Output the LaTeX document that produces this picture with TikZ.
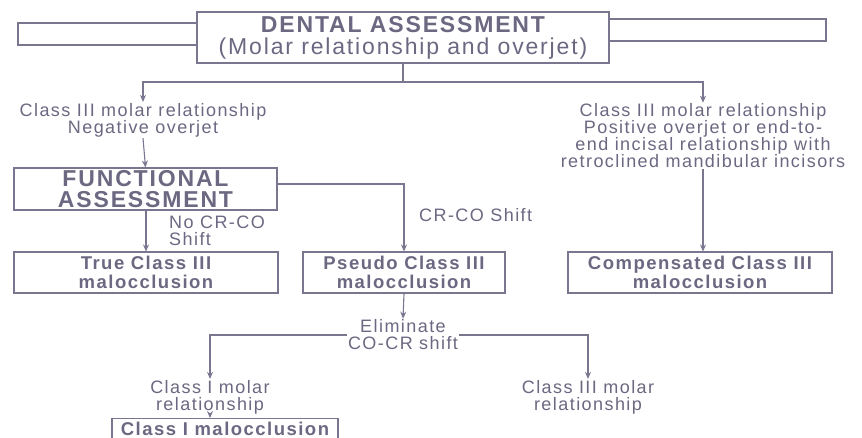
\documentclass[tikz,border=0pt]{standalone}
\usepackage{fontspec}
\setmainfont{Liberation Sans}[LetterSpace=8]
\usetikzlibrary{arrows.meta}
\definecolor{ink}{HTML}{6C6882}
\definecolor{lin}{HTML}{7A7690}
\begin{document}
\begin{tikzpicture}[x=1pt,y=-1pt,
  ln/.style={draw=lin, line width=1.1pt},
  arr/.style={ln, -{Stealth[length=7pt,width=6pt]}},
  box/.style={draw=lin, line width=1.1pt, inner sep=0pt, align=center, text=ink,
    font=\bfseries\fontsize{18.5}{18.5}\selectfont},
  txt/.style={align=center, text=ink, inner sep=1pt, font=\fontsize{18}{17}\selectfont},
  lbl/.style={align=left, text=ink, inner sep=1pt, anchor=west, font=\fontsize{18}{17}\selectfont}]
\clip (0,0) rectangle (862,437);
\fill[white] (0,0) rectangle (862,437);
% top
\node[box, minimum width=412pt, minimum height=51pt, font=\fontsize{23}{22}\selectfont] (dental) at (403,37.5)
  {{\bfseries DENTAL ASSESSMENT}\\(Molar relationship and overjet)};
\coordinate (lbt) at (18,23); \coordinate (lbb) at (18,45);
\coordinate (rbt) at (826,19); \coordinate (rbb) at (826,41);
\draw[ln] (dental.west |- lbt) -- (lbt) -- (lbb) -- (dental.west |- lbb);
\draw[ln] (dental.east |- rbt) -- (rbt) -- (rbb) -- (dental.east |- rbb);
\coordinate (j1) at (403,82);
\node[txt] (neg) at (143,120) {Class III molar relationship\\Negative overjet};
\node[txt] (pos) at (703,136) {Class III molar relationship\\Positive overjet or end-to-\\end incisal relationship with\\retroclined mandibular incisors};
\draw[ln] (dental.south) -- (j1);
\draw[arr] (j1) -| (neg.north);
\draw[arr] (j1) -| (pos.north);
% functional
\node[box, minimum width=263pt, minimum height=42pt, font=\bfseries\fontsize{23}{21.5}\selectfont] (func) at (145.5,189)
  {FUNCTIONAL\\ASSESSMENT};
\draw[arr] (neg.south) -- (func.north);
\node[box, minimum width=264pt, minimum height=41pt] (true) at (146,272.5) {True Class III\\malocclusion};
\node[box, minimum width=202pt, minimum height=41pt] (pseudo) at (404,272.5) {Pseudo Class III\\malocclusion};
\node[box, minimum width=264pt, minimum height=41pt] (comp) at (700,272.5) {Compensated Class III\\malocclusion};
\draw[arr] (func.south -| true.north) -- (true.north);
\draw[arr] ([yshift=5pt]func.east) -| (pseudo.north);
\draw[arr] (pos.south) -- (comp.north -| pos.south);
\node[lbl] (nocr) at (168,231) {No CR-CO\\Shift};
\node[lbl] (crco) at (418,215) {CR-CO Shift};
% lower
\node[txt] (elim) at (403,335) {Eliminate\\CO-CR shift};
\draw[arr] (pseudo.south) -- (elim.north);
\node[txt] (cls1) at (210,397) {Class I molar\\relationship};
\node[txt] (cls3) at (588,397) {Class III molar\\relationship};
\draw[arr] (elim.west) -| (cls1.north);
\draw[arr] (elim.east) -| (cls3.north);
\node[box, minimum width=226pt, minimum height=20pt, anchor=north] (c1box) at (225,418) {Class I malocclusion};
\draw[arr] (cls1.south) -- (cls1.south |- c1box.north);
\end{tikzpicture}
\end{document}
